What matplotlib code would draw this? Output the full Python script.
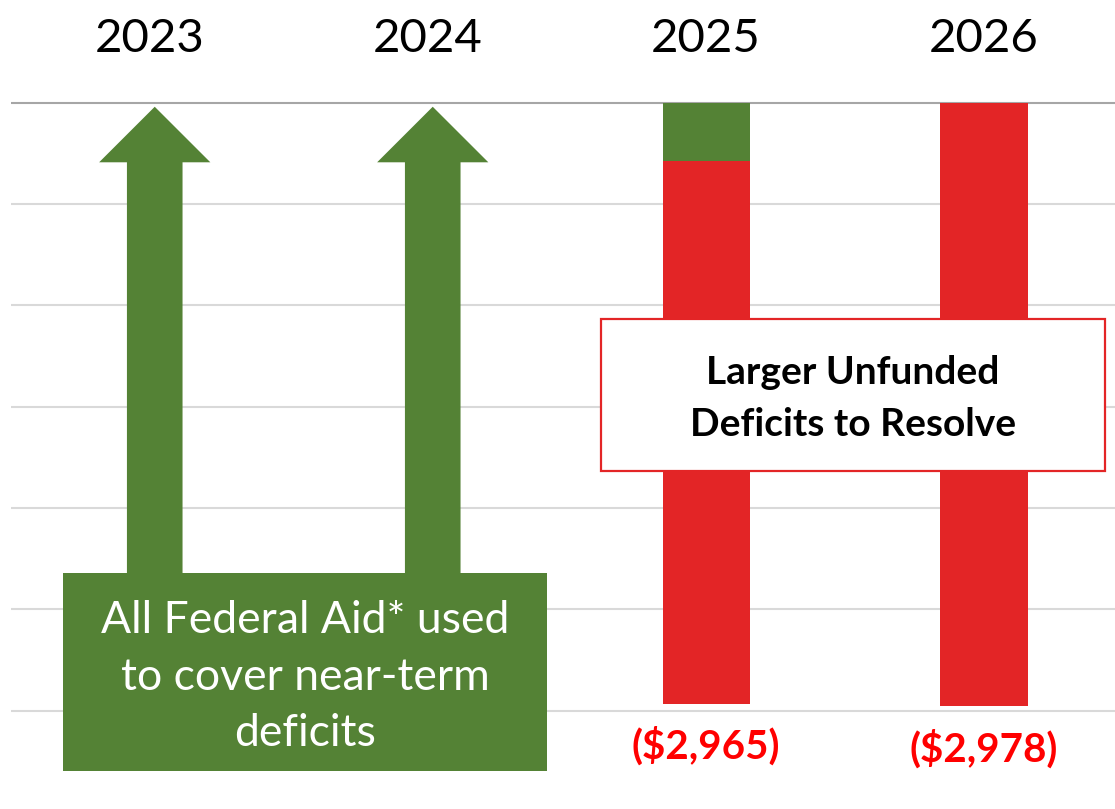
import numpy as np
import matplotlib
matplotlib.use("Agg")
import matplotlib.pyplot as plt
from matplotlib.patches import Rectangle, FancyArrow
from matplotlib import transforms

# ---- data ($ millions) ----
years = ["2023", "2024", "2025", "2026"]
total_deficit = [np.nan, np.nan, 2965, 2978]      # projected deficit per year
federal_aid_applied = [np.nan, np.nan, 288, 0]    # portion still covered by federal aid
aid_arrow_years = ["2023", "2024"]                 # years fully covered by federal aid
grid_values = [0, -500, -1000, -1500, -2000, -2500, -3000]

GREEN = "#548235"
RED = "#E32526"
LABEL_RED = "#FF0000"

W, H = 1115, 809
fig = plt.figure(figsize=(W / 100, H / 100), dpi=100)
ax = fig.add_axes([0, 0, 1, 1])
ax.set_xlim(-0.5396, 3.4712)
ax.set_ylim(-3484.5, 506.7)
ax.axis("off")

FONT = "Lato"

def fx(px):
    return px / W

def fy(py):
    return 1 - py / H

x = np.arange(len(years))

# gridlines
for g in grid_values:
    ax.hlines(g, -0.5, 3.5, color="#A6A6A6" if g == 0 else "#D9D9D9",
              lw=1.5, zorder=0)

# stacked deficit bars (drawn downward from zero)
idx = [i for i, v in enumerate(total_deficit) if not np.isnan(v)]
aid = np.array([federal_aid_applied[i] for i in idx])
tot = np.array([total_deficit[i] for i in idx])
bw = 0.313
ax.bar(x[idx], -aid, width=bw, color=GREEN, zorder=2)
ax.bar(x[idx], -(tot - aid), bottom=-aid, width=bw, color=RED, zorder=2)

for i, t in zip(idx, tot):
    ax.annotate(f"(${t:,.0f})", xy=(x[i], -t), xytext=(0, -39.5),
                textcoords="offset points", ha="center", va="baseline",
                fontsize=29, fontweight="bold", color=LABEL_RED,
                family=FONT, zorder=3)

# arrows for years fully funded by federal aid
for yr in aid_arrow_years:
    i = years.index(yr)
    ax.add_patch(FancyArrow(x[i] + 0.017, -2600, 0, 2580, width=0.2,
                            head_width=0.4, head_length=274,
                            length_includes_head=True, color=GREEN,
                            lw=0, zorder=2))

# year headers
tr = transforms.blended_transform_factory(ax.transData, fig.transFigure)
for i, yr in enumerate(years):
    ax.text(x[i], fy(52), yr, transform=tr, ha="center", va="baseline",
            fontsize=34, color="black", family=FONT, clip_on=False)

# callout boxes
fig.add_artist(Rectangle((fx(63), fy(771)), fx(547) - fx(63), fy(573) - fy(771),
                         transform=fig.transFigure, facecolor=GREEN,
                         edgecolor="none", zorder=5))
for line, base in zip(["All Federal Aid* used", "to cover near-term", "deficits"],
                      [633, 690, 746]):
    fig.text(fx(305), fy(base), line, ha="center", va="baseline",
             fontsize=32, color="white", family=FONT, zorder=6)

fig.add_artist(Rectangle((fx(601), fy(471)), fx(1105) - fx(601), fy(319) - fy(471),
                         transform=fig.transFigure, facecolor="white",
                         edgecolor=RED, lw=1.6, zorder=5))
for line, base in zip(["Larger Unfunded", "Deficits to Resolve"], [384, 436]):
    fig.text(fx(853), fy(base), line, ha="center", va="baseline",
             fontsize=28, fontweight="bold", color="black", family=FONT, zorder=6)

fig.savefig("out.png", dpi=100)
